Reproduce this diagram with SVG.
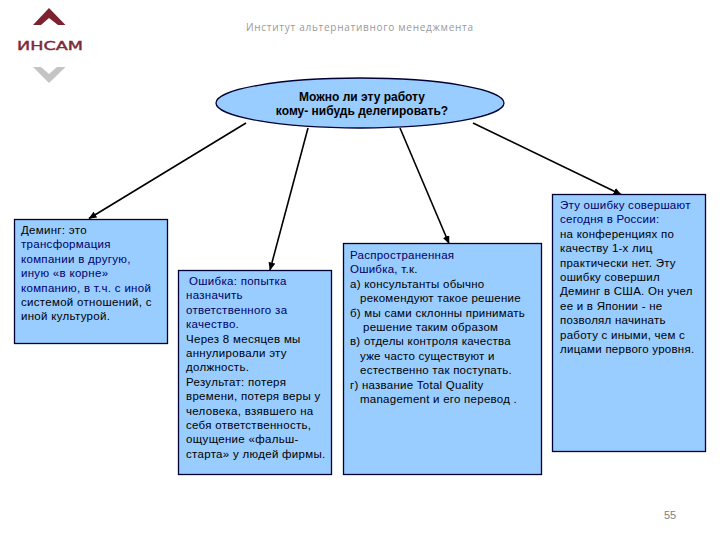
<svg xmlns="http://www.w3.org/2000/svg" width="720" height="540" viewBox="0 0 720 540">
<defs>
<marker id="arr" markerUnits="userSpaceOnUse" markerWidth="8" markerHeight="7" refX="7.500" refY="3.500" orient="auto"><path d="M0 0L8 3.500L0 7Z" fill="#000"/></marker>
</defs>
<style>
.box{fill:#99ccff;stroke:#000033;stroke-width:1.3}
.t{font-family:"Liberation Sans",Arial,sans-serif;font-size:11.500px;fill:#000;letter-spacing:.3px}
.s{letter-spacing:.25px}
.n{fill:#000066}
.b{font-family:"Liberation Sans",Arial,sans-serif;font-size:12px;font-weight:bold;fill:#000;text-anchor:middle}
.c{stroke:#000;stroke-width:1.6;fill:none;marker-end:url(#arr)}
.g{font-family:"Open Sans","Noto Sans",sans-serif;fill:#999}
</style>
<rect width="720" height="540" fill="#fff"/>
<g id="logo">
<polygon points="49,8 65.500,25 58,25 49,18 41,25 33,25" fill="#7c2230"/>
<text x="17" y="50" font-family="'DejaVu Sans',sans-serif" font-size="12" fill="#7c2a38" stroke="#7c2a38" stroke-width=".4" textLength="66" lengthAdjust="spacingAndGlyphs">ИНСАМ</text>
<polygon points="33,67 41,67 49,74 57,67 65.500,67 49,83" fill="#c4c4c4"/>
</g>
<text id="header" class="g" x="246" y="31" font-size="10" textLength="227" lengthAdjust="spacing">Институт альтернативного менеджмента</text>
<g id="connectors">
<line class="c" x1="246" y1="123" x2="89" y2="218.500"/>
<line class="c" x1="308" y1="128" x2="270" y2="270"/>
<line class="c" x1="400" y1="128" x2="449" y2="243.500"/>
<line class="c" x1="473" y1="123" x2="621" y2="194.500"/>
</g>
<g id="question">
<ellipse cx="360" cy="103" rx="144" ry="25" class="box"/>
<text class="b" x="362" y="101">Можно ли эту работу</text>
<text class="b" x="362" y="115">кому- нибудь делегировать?</text>
</g>
<g id="box1">
<rect class="box" x="14.500" y="219.500" width="153" height="124"/>
<text class="t" x="21" y="234">Деминг: это</text>
<text class="t n" x="21" y="248.400">трансформация</text>
<text class="t n" x="21" y="262.800">компании в другую,</text>
<text class="t n" x="21" y="277.200">иную «в корне»</text>
<text class="t n" x="21" y="291.600">компанию, в т.ч. с иной</text>
<text class="t" x="21" y="306">системой отношений, с</text>
<text class="t" x="21" y="320.400">иной культурой.</text>
</g>
<g id="box2">
<rect class="box" x="178.500" y="270.500" width="153" height="204"/>
<text class="t n" x="189" y="285">Ошибка: попытка</text>
<text class="t n" x="186" y="299.400">назначить</text>
<text class="t n" x="186" y="313.800">ответственного за</text>
<text class="t n" x="186" y="328.200">качество.</text>
<text class="t" x="186" y="342.600">Через 8 месяцев мы</text>
<text class="t" x="186" y="357">аннулировали эту</text>
<text class="t" x="186" y="371.400">должность.</text>
<text class="t" x="186" y="385.800">Результат: потеря</text>
<text class="t" x="186" y="400.200">времени, потеря веры у</text>
<text class="t" x="186" y="414.600">человека, взявшего на</text>
<text class="t" x="186" y="429">себя ответственность,</text>
<text class="t" x="186" y="443.400">ощущение «фальш-</text>
<text class="t" x="186" y="457.800">старта» у людей фирмы.</text>
</g>
<g id="box3">
<rect class="box" x="343.500" y="243.500" width="198" height="231"/>
<text class="t n s" x="350" y="259">Распространенная</text>
<text class="t n s" x="350" y="273.400">Ошибка, <tspan fill="#000">т.к.</tspan></text>
<text class="t s" x="350" y="287.800">а) консультанты обычно</text>
<text class="t s" x="360" y="302.200">рекомендуют такое решение</text>
<text class="t s" x="350" y="316.600">б) мы сами склонны принимать</text>
<text class="t s" x="363" y="331">решение таким образом</text>
<text class="t s" x="350" y="345.400">в) отделы контроля качества</text>
<text class="t s" x="360" y="359.800">уже  часто существуют и</text>
<text class="t s" x="360" y="374.200">естественно так поступать.</text>
<text class="t s" x="350" y="388.600">г) название Total Quality</text>
<text class="t s" x="360" y="403">management и его перевод .</text>
</g>
<g id="box4">
<rect class="box" x="552.500" y="194.500" width="153" height="257"/>
<text class="t n s" x="560" y="209">Эту ошибку совершают</text>
<text class="t n s" x="560" y="223.400">сегодня в России:</text>
<text class="t s" x="560" y="237.800">на конференциях по</text>
<text class="t s" x="560" y="252.200">качеству 1-х лиц</text>
<text class="t s" x="560" y="266.600">практически нет. Эту</text>
<text class="t s" x="560" y="281">ошибку совершил</text>
<text class="t s" x="560" y="295.400">Деминг в США. Он учел</text>
<text class="t s" x="560" y="309.800">ее и в Японии  - не</text>
<text class="t s" x="560" y="324.200">позволял начинать</text>
<text class="t s" x="560" y="338.600">работу с иными, чем с</text>
<text class="t s" x="560" y="353">лицами первого уровня.</text>
</g>
<text id="page" x="664" y="519" font-family="'Liberation Sans',Arial,sans-serif" font-size="11" fill="#808080">55</text>
</svg>
